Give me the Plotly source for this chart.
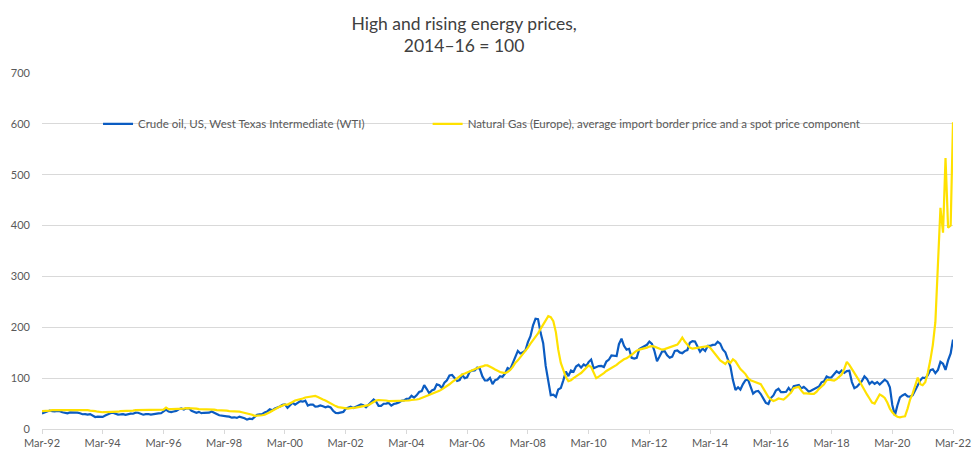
import plotly.graph_objects as go
import pandas as pd

# Monthly observations, Mar-1992 .. Mar-2022 (index, 2014-16 = 100)
start_month = "1992-03-01"
end_month = "2022-03-01"

wti = [
    # 1992 Mar-Dec
    30.7, 32.8, 34.0, 36.3, 35.3, 34.6, 35.5, 35.1, 33.0, 31.5,
    # 1993
    30.8, 32.6, 32.9, 32.8, 32.3, 30.9, 29.0, 29.2, 28.4, 29.4, 26.9, 23.5,
    # 1994
    24.4, 24.0, 23.8, 26.5, 29.0, 30.9, 31.9, 29.8, 28.3, 28.7, 29.3, 27.8,
    # 1995
    29.2, 30.1, 30.0, 32.2, 32.0, 29.9, 28.1, 29.2, 29.5, 28.2, 29.2, 30.8,
    # 1996
    30.6, 30.9, 34.6, 38.1, 34.3, 33.1, 34.5, 35.5, 38.8, 40.3, 38.4, 40.9,
    # 1997
    40.7, 35.9, 34.0, 31.9, 33.7, 31.2, 31.9, 32.3, 32.1, 34.6, 32.7, 29.7,
    # 1998
    27.1, 26.0, 24.5, 24.9, 24.2, 22.2, 23.0, 21.8, 24.4, 23.4, 21.1, 18.4,
    # 1999
    20.3, 19.5, 23.8, 28.1, 28.7, 29.0, 32.6, 34.5, 38.6, 36.8, 40.5, 42.3,
    # 2000
    44.2, 47.6, 48.4, 41.7, 46.7, 51.6, 48.1, 50.7, 54.9, 53.7, 55.8, 46.1,
    # 2001
    48.0, 48.0, 44.2, 44.5, 46.4, 44.7, 42.8, 44.4, 42.5, 35.9, 31.8, 31.4,
    # 2002
    32.0, 33.6, 39.8, 42.4, 43.8, 41.4, 43.7, 46.0, 48.1, 46.7, 42.7, 47.7,
    # 2003
    53.4, 58.1, 54.3, 45.6, 45.6, 49.7, 49.8, 51.2, 45.9, 49.2, 50.4, 52.1,
    # 2004
    55.6, 56.2, 59.5, 59.6, 65.3, 61.6, 66.1, 72.8, 74.4, 86.3, 78.5, 69.9,
    # 2005
    75.9, 78.0, 87.8, 85.9, 80.7, 91.3, 95.6, 105.3, 106.3, 100.9, 94.5, 96.3,
    # 2006
    106.1, 99.9, 101.6, 112.5, 114.8, 115.0, 120.6, 118.4, 103.4, 95.4, 95.7, 100.4,
    # 2007
    88.3, 96.1, 97.9, 103.7, 102.8, 109.4, 120.1, 117.3, 129.5, 139.0, 153.6, 148.6,
    # 2008
    150.7, 154.6, 170.9, 182.4, 203.2, 217.0, 216.1, 189.1, 168.7, 124.1, 92.9, 66.6,
    # 2009
    67.6, 63.3, 77.7, 80.5, 95.7, 112.9, 104.0, 115.1, 112.5, 122.7, 126.4, 120.7,
    # 2010
    126.9, 123.8, 131.6, 136.6, 119.5, 122.1, 123.7, 124.1, 121.9, 132.7, 136.5, 144.5,
    # 2011
    144.5, 143.5, 166.7, 177.5, 163.5, 156.0, 157.7, 139.9, 138.6, 139.9, 157.4, 159.7,
    # 2012
    162.5, 165.6, 172.0, 167.4, 153.4, 133.4, 142.4, 152.5, 153.2, 145.0, 140.2, 142.4,
    # 2013
    153.6, 154.5, 150.6, 149.1, 153.2, 155.2, 169.6, 172.7, 172.2, 162.9, 152.1, 158.2,
    # 2014
    153.3, 163.4, 163.3, 165.4, 165.6, 171.4, 167.9, 156.4, 151.0, 136.8, 122.8, 96.1,
    # 2015
    76.5, 82.0, 77.5, 88.2, 96.0, 96.9, 82.5, 69.5, 73.7, 74.9, 68.8, 60.3,
    # 2016
    51.3, 49.1, 60.8, 66.0, 75.7, 79.0, 72.4, 72.5, 73.2, 80.7, 74.0, 84.2,
    # 2017
    85.1, 86.6, 79.9, 82.7, 78.6, 73.2, 75.6, 77.8, 80.7, 83.6, 91.8, 93.8,
    # 2018
    103.2, 100.8, 101.7, 107.4, 113.4, 110.0, 115.0, 110.3, 113.8, 114.7, 92.3, 80.2,
    # 2019
    83.3, 89.0, 94.2, 103.5, 98.6, 88.6, 92.9, 88.8, 92.3, 87.4, 92.4, 97.0,
    # 2020
    93.2, 81.9, 47.3, 26.8, 46.3, 62.1, 66.0, 68.6, 64.2, 63.8, 66.3, 76.2,
    # 2021
    84.3, 95.7, 101.0, 100.0, 105.6, 115.7, 117.5, 109.8, 116.1, 132.0, 128.3, 116.2,
    # 2022 Jan-Mar
    134.9, 148.5, 175.8,
]

gas = [
    # 1992 Mar-Dec
    35, 35, 36, 36, 37, 37, 37, 37, 38, 38,
    # 1993
    38, 38, 38, 38, 38, 38, 37, 37, 37, 36, 36, 35,
    # 1994
    34, 33, 33, 33, 33, 34, 34, 34, 34, 35, 35, 35,
    # 1995
    36, 36, 36, 37, 37, 37, 37, 38, 38, 38, 38, 38,
    # 1996
    38, 38, 38, 42, 39, 39, 39, 39, 40, 40, 40, 41,
    # 1997
    41, 41, 40, 40, 39, 39, 39, 38, 38, 38, 38, 37,
    # 1998
    37, 36, 36, 36, 35, 35, 35, 34, 34, 33, 32, 31,
    # 1999
    29, 28, 26, 26, 26, 27, 28, 30, 33, 36, 39, 42,
    # 2000
    44, 46, 48, 48, 50, 53, 56, 57, 58, 60, 62, 63,
    # 2001
    64, 65, 65, 63, 60, 58, 56, 53, 50, 47, 45, 43,
    # 2002
    42, 41, 40, 40, 41, 41, 42, 43, 44, 45, 46, 47,
    # 2003
    50, 53, 56, 57, 57, 56, 56, 55, 55, 55, 55, 55,
    # 2004
    55, 55, 56, 56, 57, 57, 58, 59, 61, 63, 64, 66,
    # 2005
    68, 70, 72, 75, 78, 81, 84, 88, 92, 96, 100, 104,
    # 2006
    107, 109, 111, 113, 116, 118, 120, 122, 123, 125, 125, 123,
    # 2007
    120, 117, 114, 112, 111, 110, 112, 116, 122, 130, 135, 141,
    # 2008
    147, 153, 160, 168, 175, 180, 188, 197, 206, 215, 222, 220,
    # 2009
    212, 190, 156, 130, 117, 102, 94, 96, 100, 104, 107, 110,
    # 2010
    115, 120, 125, 122, 110, 100, 103, 106, 110, 114, 117, 119,
    # 2011
    122, 126, 130, 134, 137, 139, 142, 146, 150, 154, 156, 157,
    # 2012
    158, 160, 162, 163, 162, 160, 158, 156, 157, 159, 161, 163,
    # 2013
    165, 166, 172, 180, 172, 165, 160, 158, 159, 160, 161, 162,
    # 2014
    163, 163, 160, 153, 147, 141, 135, 131, 128, 134, 130, 137,
    # 2015
    133, 125, 118, 113, 108, 100, 96, 94, 92, 90, 88, 80,
    # 2016
    71, 63, 58, 55, 57, 60, 59, 58, 62, 66, 72, 80,
    # 2017
    82, 83, 76, 70, 70, 69, 69, 69, 73, 79, 84, 88,
    # 2018
    96, 97, 96, 95, 98, 102, 107, 118, 132, 126, 117, 110,
    # 2019
    102, 94, 85, 76, 68, 60, 52, 50, 58, 68, 65, 61,
    # 2020
    52, 40, 33, 27, 24, 23, 24, 25, 40, 58, 70, 84,
    # 2021
    101, 88, 86, 92, 110, 135, 165, 210, 320, 435, 386, 533,
    # 2022 Jan-Mar
    396, 400, 603,
]

wti_name = "Crude oil, US, West Texas Intermediate (WTI)"
gas_name = "Natural Gas (Europe), average import border price and a spot price component"
title_text = "High and rising energy prices,<br>2014–16 = 100"

months = pd.date_range(start_month, end_month, freq="MS")

fig = go.Figure()
fig.add_trace(go.Scatter(x=months, y=wti, mode="lines", name=wti_name,
                         line=dict(color="#0b5cc2", width=2.2), legend="legend"))
fig.add_trace(go.Scatter(x=months, y=gas, mode="lines", name=gas_name,
                         line=dict(color="#ffe100", width=2.2), legend="legend2"))

font_family = "Lato, 'Open Sans', sans-serif"
legend_common = dict(orientation="h", yanchor="middle", y=0.857, xanchor="left",
                     bgcolor="rgba(0,0,0,0)", font=dict(size=11.5, color="#595959"),
                     itemwidth=30)

fig.update_layout(
    width=973, height=454,
    margin=dict(l=42, r=20, t=73, b=24.5, autoexpand=False),
    paper_bgcolor="white", plot_bgcolor="white",
    font=dict(family=font_family, size=11, color="#595959"),
    title=dict(text=title_text, x=0.477, xref="container", xanchor="center",
               y=0.935, yref="container", yanchor="middle",
               font=dict(family=font_family, size=17.5, color="#404040")),
    legend=dict(x=0.0615, **legend_common),
    legend2=dict(x=0.4233, **legend_common),
    showlegend=True,
    hovermode=False,
)

fig.update_xaxes(
    type="date", range=[start_month, end_month], automargin=False,
    tick0=start_month, dtick="M24", tickformat="%b-%y",
    ticks="outside", ticklen=4, tickcolor="#d9d9d9",
    showline=True, linecolor="#d9d9d9", linewidth=1,
    showgrid=False, zeroline=False,
    tickfont=dict(size=11, color="#595959"),
)
fig.update_yaxes(
    range=[0, 700], dtick=100, tick0=0, automargin=False,
    showgrid=True, gridcolor="#d9d9d9", gridwidth=1,
    zeroline=False, showline=False,
    ticks="", ticklabelstandoff=11,
    tickfont=dict(size=11, color="#595959"),
)

# Remove the default page margin so the 973x454 figure fills the window exactly.
fig.write_html("out.html", config={"displayModeBar": False},
               post_script="document.body.style.margin='0px';")
